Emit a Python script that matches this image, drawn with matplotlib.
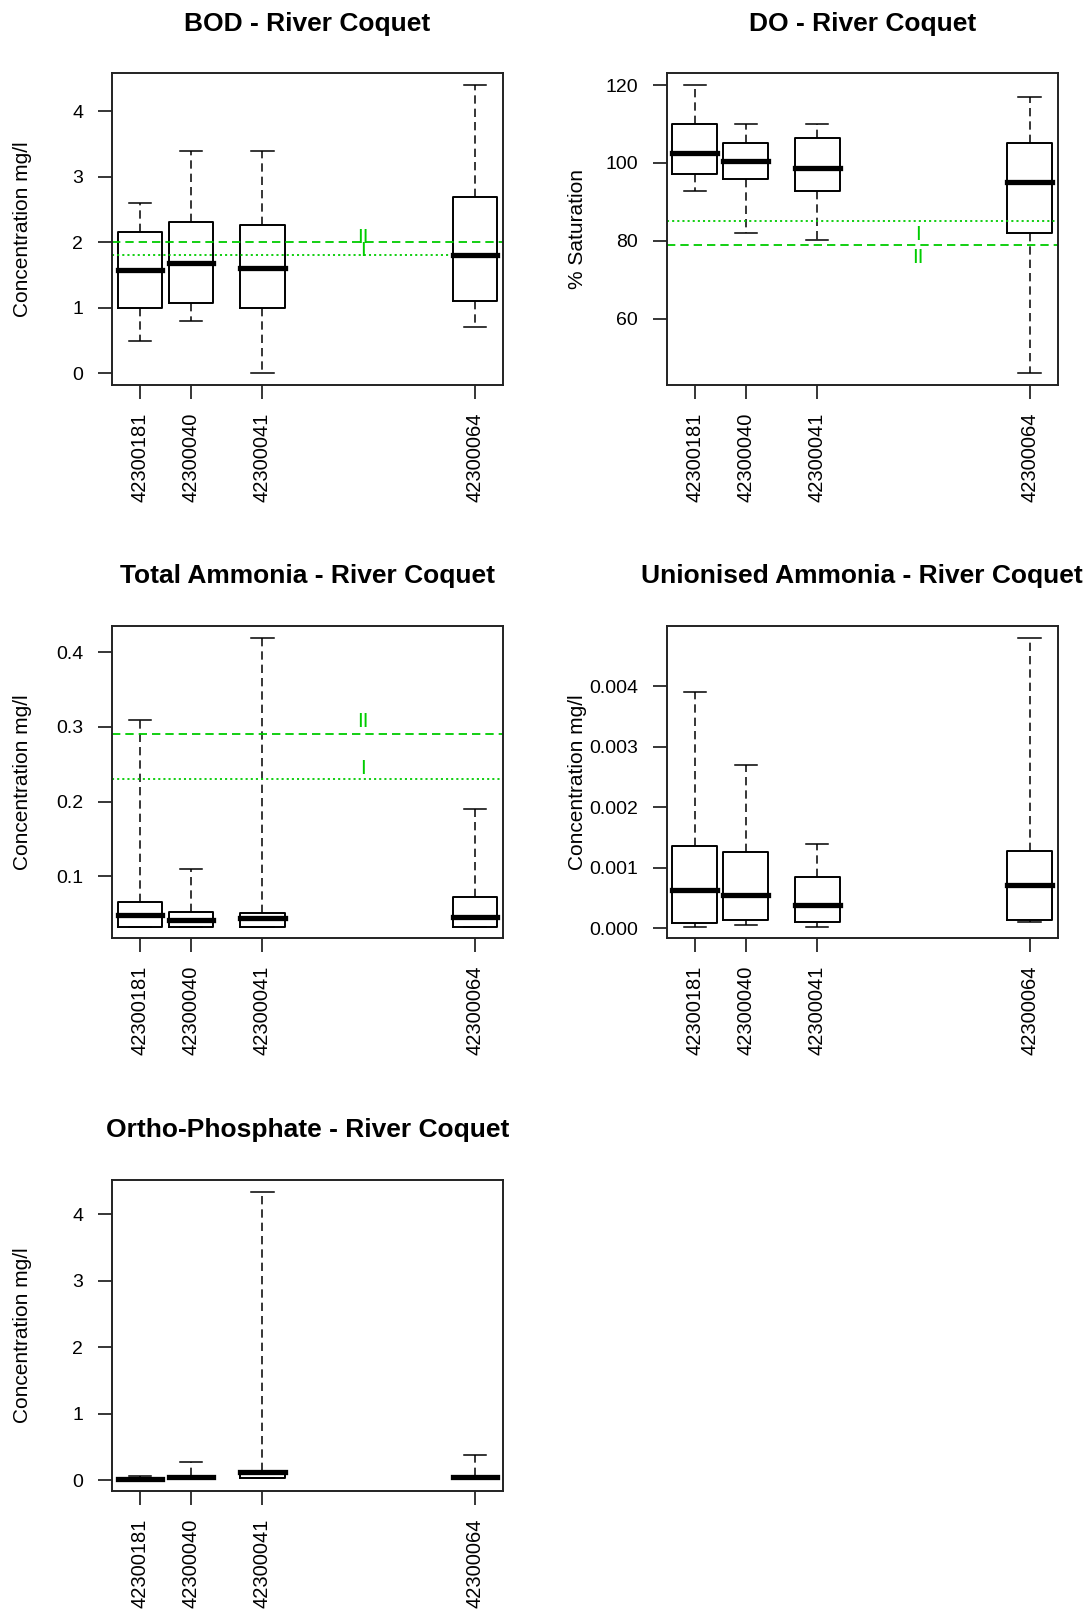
import matplotlib
matplotlib.use("Agg")
import matplotlib.pyplot as plt

plt.rcParams['font.family'] = ['Liberation Sans', 'DejaVu Sans']
plt.rcParams['lines.scale_dashes'] = False

# ---- data -------------------------------------------------------------
sites = ['42300181', '42300040', '42300041', '42300064']
site_pos = [1.0, 2.0, 3.4, 7.57]

bod_low = [0.5, 0.8, 0.0, 0.7]
bod_q1 = [1.0, 1.08, 1.0, 1.1]
bod_med = [1.58, 1.68, 1.61, 1.81]
bod_q3 = [2.16, 2.31, 2.26, 2.69]
bod_high = [2.6, 3.4, 3.4, 4.4]
bod_standards = {'I': 1.8, 'II': 2.0}

do_low = [92.9, 81.9, 80.2, 46.0]
do_q1 = [97.1, 95.9, 92.9, 81.9]
do_med = [102.6, 100.5, 98.8, 95.0]
do_q3 = [110.0, 105.2, 106.4, 105.2]
do_high = [120.0, 110.0, 110.0, 117.0]
do_standards = {'I': 85.0, 'II': 79.0}

tam_low = [0.032, 0.032, 0.032, 0.032]
tam_q1 = [0.032, 0.032, 0.032, 0.032]
tam_med = [0.0475, 0.041, 0.044, 0.045]
tam_q3 = [0.065, 0.052, 0.050, 0.072]
tam_high = [0.31, 0.11, 0.42, 0.19]
tam_standards = {'I': 0.23, 'II': 0.29}

uam_low = [0.000026, 0.000054, 0.000026, 0.000109]
uam_q1 = [0.000082, 0.000137, 0.000109, 0.000137]
uam_med = [0.000626, 0.000544, 0.000379, 0.000709]
uam_q3 = [0.001362, 0.001253, 0.000846, 0.001279]
uam_high = [0.0039, 0.0027, 0.0014, 0.0048]

op_low = [0.01, 0.03, 0.03, 0.03]
op_q1 = [0.015, 0.035, 0.035, 0.035]
op_med = [0.02, 0.045, 0.12, 0.045]
op_q3 = [0.03, 0.06, 0.135, 0.06]
op_high = [0.06, 0.275, 4.34, 0.374]

# ---- layout -----------------------------------------------------------
W, H = 1088, 1611
fig = plt.figure(figsize=(W / 100, H / 100), dpi=100)
fig.patch.set_facecolor('white')

GREEN = '#00CC00'
LW_BOX = 1.4
TITLE_PAD = 50.0
YLABEL_OFFSET = 88.8


def add_panel(x0, x1, y0, y1):
    return fig.add_axes([x0 / W, 1 - y1 / H, (x1 - x0) / W, (y1 - y0) / H])


def draw_panel(ax, low, q1, med, q3, high, title, ylabel, yticks, yfmt,
               standards=None, std_factor=1.04):
    stats = []
    for i in range(len(sites)):
        stats.append(dict(whislo=low[i], q1=q1[i], med=med[i], q3=q3[i],
                          whishi=high[i], fliers=[]))
    ax.bxp(stats, positions=site_pos, widths=0.88, capwidths=0.44,
           showfliers=False,
           boxprops=dict(color='black', linewidth=LW_BOX),
           whiskerprops=dict(color='black', linewidth=1.1,
                             linestyle=(0, (6.0, 3.6))),
           capprops=dict(color='black', linewidth=1.1),
           medianprops=dict(color='black', linewidth=3.8,
                            solid_capstyle='projecting'))
    lo = min(low)
    hi = max(high)
    pad = 0.04 * (hi - lo)
    ax.set_ylim(lo - pad, hi + pad)
    ax.set_xlim(site_pos[0] - 0.555, site_pos[-1] + 0.555)

    if standards is not None:
        ax.axhline(standards['I'], color=GREEN, linewidth=1.3,
                   linestyle=(0, (1.5, 2.2)))
        ax.axhline(standards['II'], color=GREEN, linewidth=1.3,
                   linestyle=(0, (6.0, 3.6)))
        for name, val in standards.items():
            ax.text(5.38, val * std_factor, name, color=GREEN, fontsize=15,
                    ha='center', va='center')

    ax.set_xticks(site_pos)
    ax.set_xticklabels(sites, rotation=90, fontsize=14.5)
    ax.set_yticks(yticks)
    ax.set_yticklabels([yfmt.format(v) for v in yticks], fontsize=14)
    ax.tick_params(axis='both', direction='out', length=10, width=1.1,
                   colors='black')
    ax.tick_params(axis='y', pad=10.5)
    ax.tick_params(axis='x', pad=9.8)
    for sp in ax.spines.values():
        sp.set_linewidth(1.4)
        sp.set_color('#222222')

    # panel title and axis label
    bb = ax.get_position()
    y_top = (1 - bb.y1) * H
    title_x = (bb.x0 + bb.x1) / 2 * W
    fig.text(title_x / W, 1 - (y_top - TITLE_PAD) / H, title,
             fontsize=19, fontweight='bold', ha='center', va='center')
    ax.set_ylabel(ylabel, fontsize=15)
    ax.yaxis.label.set(ha='center', va='center', rotation_mode='default')
    ax.yaxis.set_label_coords(-YLABEL_OFFSET / ((bb.x1 - bb.x0) * W), 0.5)


LEFT = (111.7, 503.3)
RIGHT = (666.5, 1058.0)
ROW1 = (73.5, 384.8)
ROW2 = (626.0, 938.3)
ROW3 = (1180.0, 1491.0)

ax1 = add_panel(LEFT[0], LEFT[1], ROW1[0], ROW1[1])
draw_panel(ax1, bod_low, bod_q1, bod_med, bod_q3, bod_high,
           'BOD - River Coquet', 'Concentration mg/l', [0, 1, 2, 3, 4], '{:g}',
           standards=bod_standards, std_factor=1.04)

ax2 = add_panel(RIGHT[0], RIGHT[1], ROW1[0], ROW1[1])
draw_panel(ax2, do_low, do_q1, do_med, do_q3, do_high,
           'DO - River Coquet', '% Saturation', [60, 80, 100, 120], '{:g}',
           standards=do_standards, std_factor=0.96)

ax3 = add_panel(LEFT[0], LEFT[1], ROW2[0], ROW2[1])
draw_panel(ax3, tam_low, tam_q1, tam_med, tam_q3, tam_high,
           'Total Ammonia - River Coquet', 'Concentration mg/l',
           [0.1, 0.2, 0.3, 0.4], '{:.1f}',
           standards=tam_standards, std_factor=1.06)

ax4 = add_panel(RIGHT[0], RIGHT[1], ROW2[0], ROW2[1])
draw_panel(ax4, uam_low, uam_q1, uam_med, uam_q3, uam_high,
           'Unionised Ammonia - River Coquet', 'Concentration mg/l',
           [0.0, 0.001, 0.002, 0.003, 0.004], '{:.3f}')

ax5 = add_panel(LEFT[0], LEFT[1], ROW3[0], ROW3[1])
draw_panel(ax5, op_low, op_q1, op_med, op_q3, op_high,
           'Ortho-Phosphate - River Coquet', 'Concentration mg/l',
           [0, 1, 2, 3, 4], '{:g}')

fig.savefig('out.png', dpi=100, facecolor='white')
